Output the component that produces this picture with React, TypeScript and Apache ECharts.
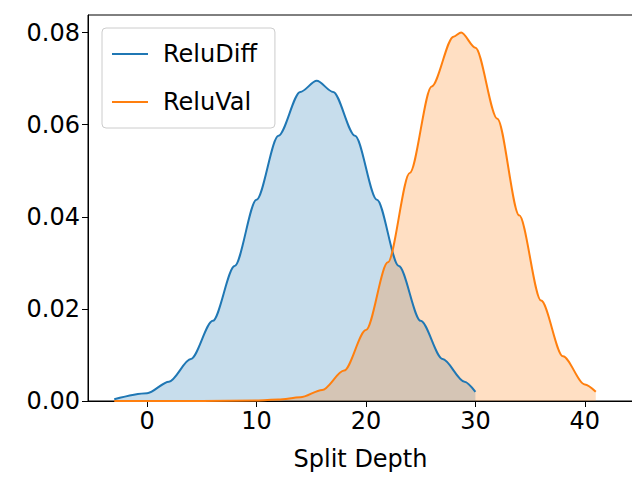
import React, { useEffect, useRef } from "react";
import * as echarts from "echarts";

// density estimates
const reluDiffX = [-3, 0, 2, 4, 6, 8, 10, 12, 14, 15.5, 17, 19, 21, 23, 25, 27, 29, 30];
const reluDiffY = [0.0004, 0.0017, 0.0042, 0.0091, 0.0174, 0.0293, 0.0437, 0.0576, 0.0671, 0.0695, 0.0671, 0.0576, 0.0437, 0.0293, 0.0174, 0.0091, 0.0042, 0.002];
const reluValX = [-3, 5, 10, 12, 14, 16, 18, 20, 22, 24, 26, 28, 28.7, 30, 32, 34, 36, 38, 40, 41];
const reluValY = [0, 0, 0.0001, 0.0003, 0.0008, 0.0024, 0.0066, 0.0154, 0.0301, 0.0495, 0.0683, 0.0791, 0.08, 0.0767, 0.0613, 0.0403, 0.0218, 0.0097, 0.0036, 0.002];
const xTicks = [0, 10, 20, 30, 40];

const pairs = (xs: number[], ys: number[]) => xs.map((x, i) => [x, ys[i]]);

const App: React.FC = () => {
  const ref = useRef<HTMLDivElement>(null);

  useEffect(() => {
    if (!ref.current) return;
    const chart = echarts.init(ref.current, null, { renderer: "svg" });
    const font = "DejaVu Sans";
    chart.setOption({
      animation: false,
      textStyle: { fontFamily: font },
      grid: { left: 80, right: 7, top: 7, bottom: 79, show: true, borderColor: "#000", borderWidth: 1 },
      legend: {
        orient: "vertical",
        left: 94,
        top: 20,
        icon: "rect",
        itemWidth: 36,
        itemHeight: 2,
        itemGap: 24,
        padding: [14, 18, 14, 10],
        borderColor: "#cccccc",
        borderWidth: 1,
        borderRadius: 4,
        textStyle: { fontSize: 24, color: "#000", fontFamily: font, padding: [0, 0, 0, 10] },
        data: ["ReluDiff", "ReluVal"],
      },
      xAxis: {
        type: "value",
        min: -5.4,
        max: 44.4,
        name: "Split Depth",
        nameLocation: "middle",
        nameGap: 46,
        nameTextStyle: { fontSize: 24, color: "#000" },
        axisLine: { onZero: false, lineStyle: { color: "#000" } },
        axisTick: { customValues: xTicks, length: 6, lineStyle: { color: "#000" } },
        axisLabel: { customValues: xTicks, fontSize: 24, color: "#000", margin: 8 },
        splitLine: { show: false },
      },
      yAxis: {
        type: "value",
        min: 0,
        max: 0.0838,
        interval: 0.02,
        axisLine: { show: true, onZero: false, lineStyle: { color: "#000" } },
        axisTick: { show: true, length: 6, lineStyle: { color: "#000" } },
        axisLabel: { fontSize: 24, color: "#000", formatter: (v: number) => v.toFixed(2) },
        splitLine: { show: false },
      },
      series: [
        {
          name: "ReluDiff",
          type: "line",
          smooth: 0.3,
          smoothMonotone: "x",
          showSymbol: false,
          data: pairs(reluDiffX, reluDiffY),
          lineStyle: { color: "#1f77b4", width: 2 },
          itemStyle: { color: "#1f77b4" },
          areaStyle: { color: "#1f77b4", opacity: 0.25 },
        },
        {
          name: "ReluVal",
          type: "line",
          smooth: 0.3,
          smoothMonotone: "x",
          showSymbol: false,
          data: pairs(reluValX, reluValY),
          lineStyle: { color: "#ff7f0e", width: 2 },
          itemStyle: { color: "#ff7f0e" },
          areaStyle: { color: "#ff7f0e", opacity: 0.25 },
        },
      ],
    });
    return () => chart.dispose();
  }, []);

  return <div ref={ref} style={{ width: 632, height: 472 }} />;
};

export default App;
